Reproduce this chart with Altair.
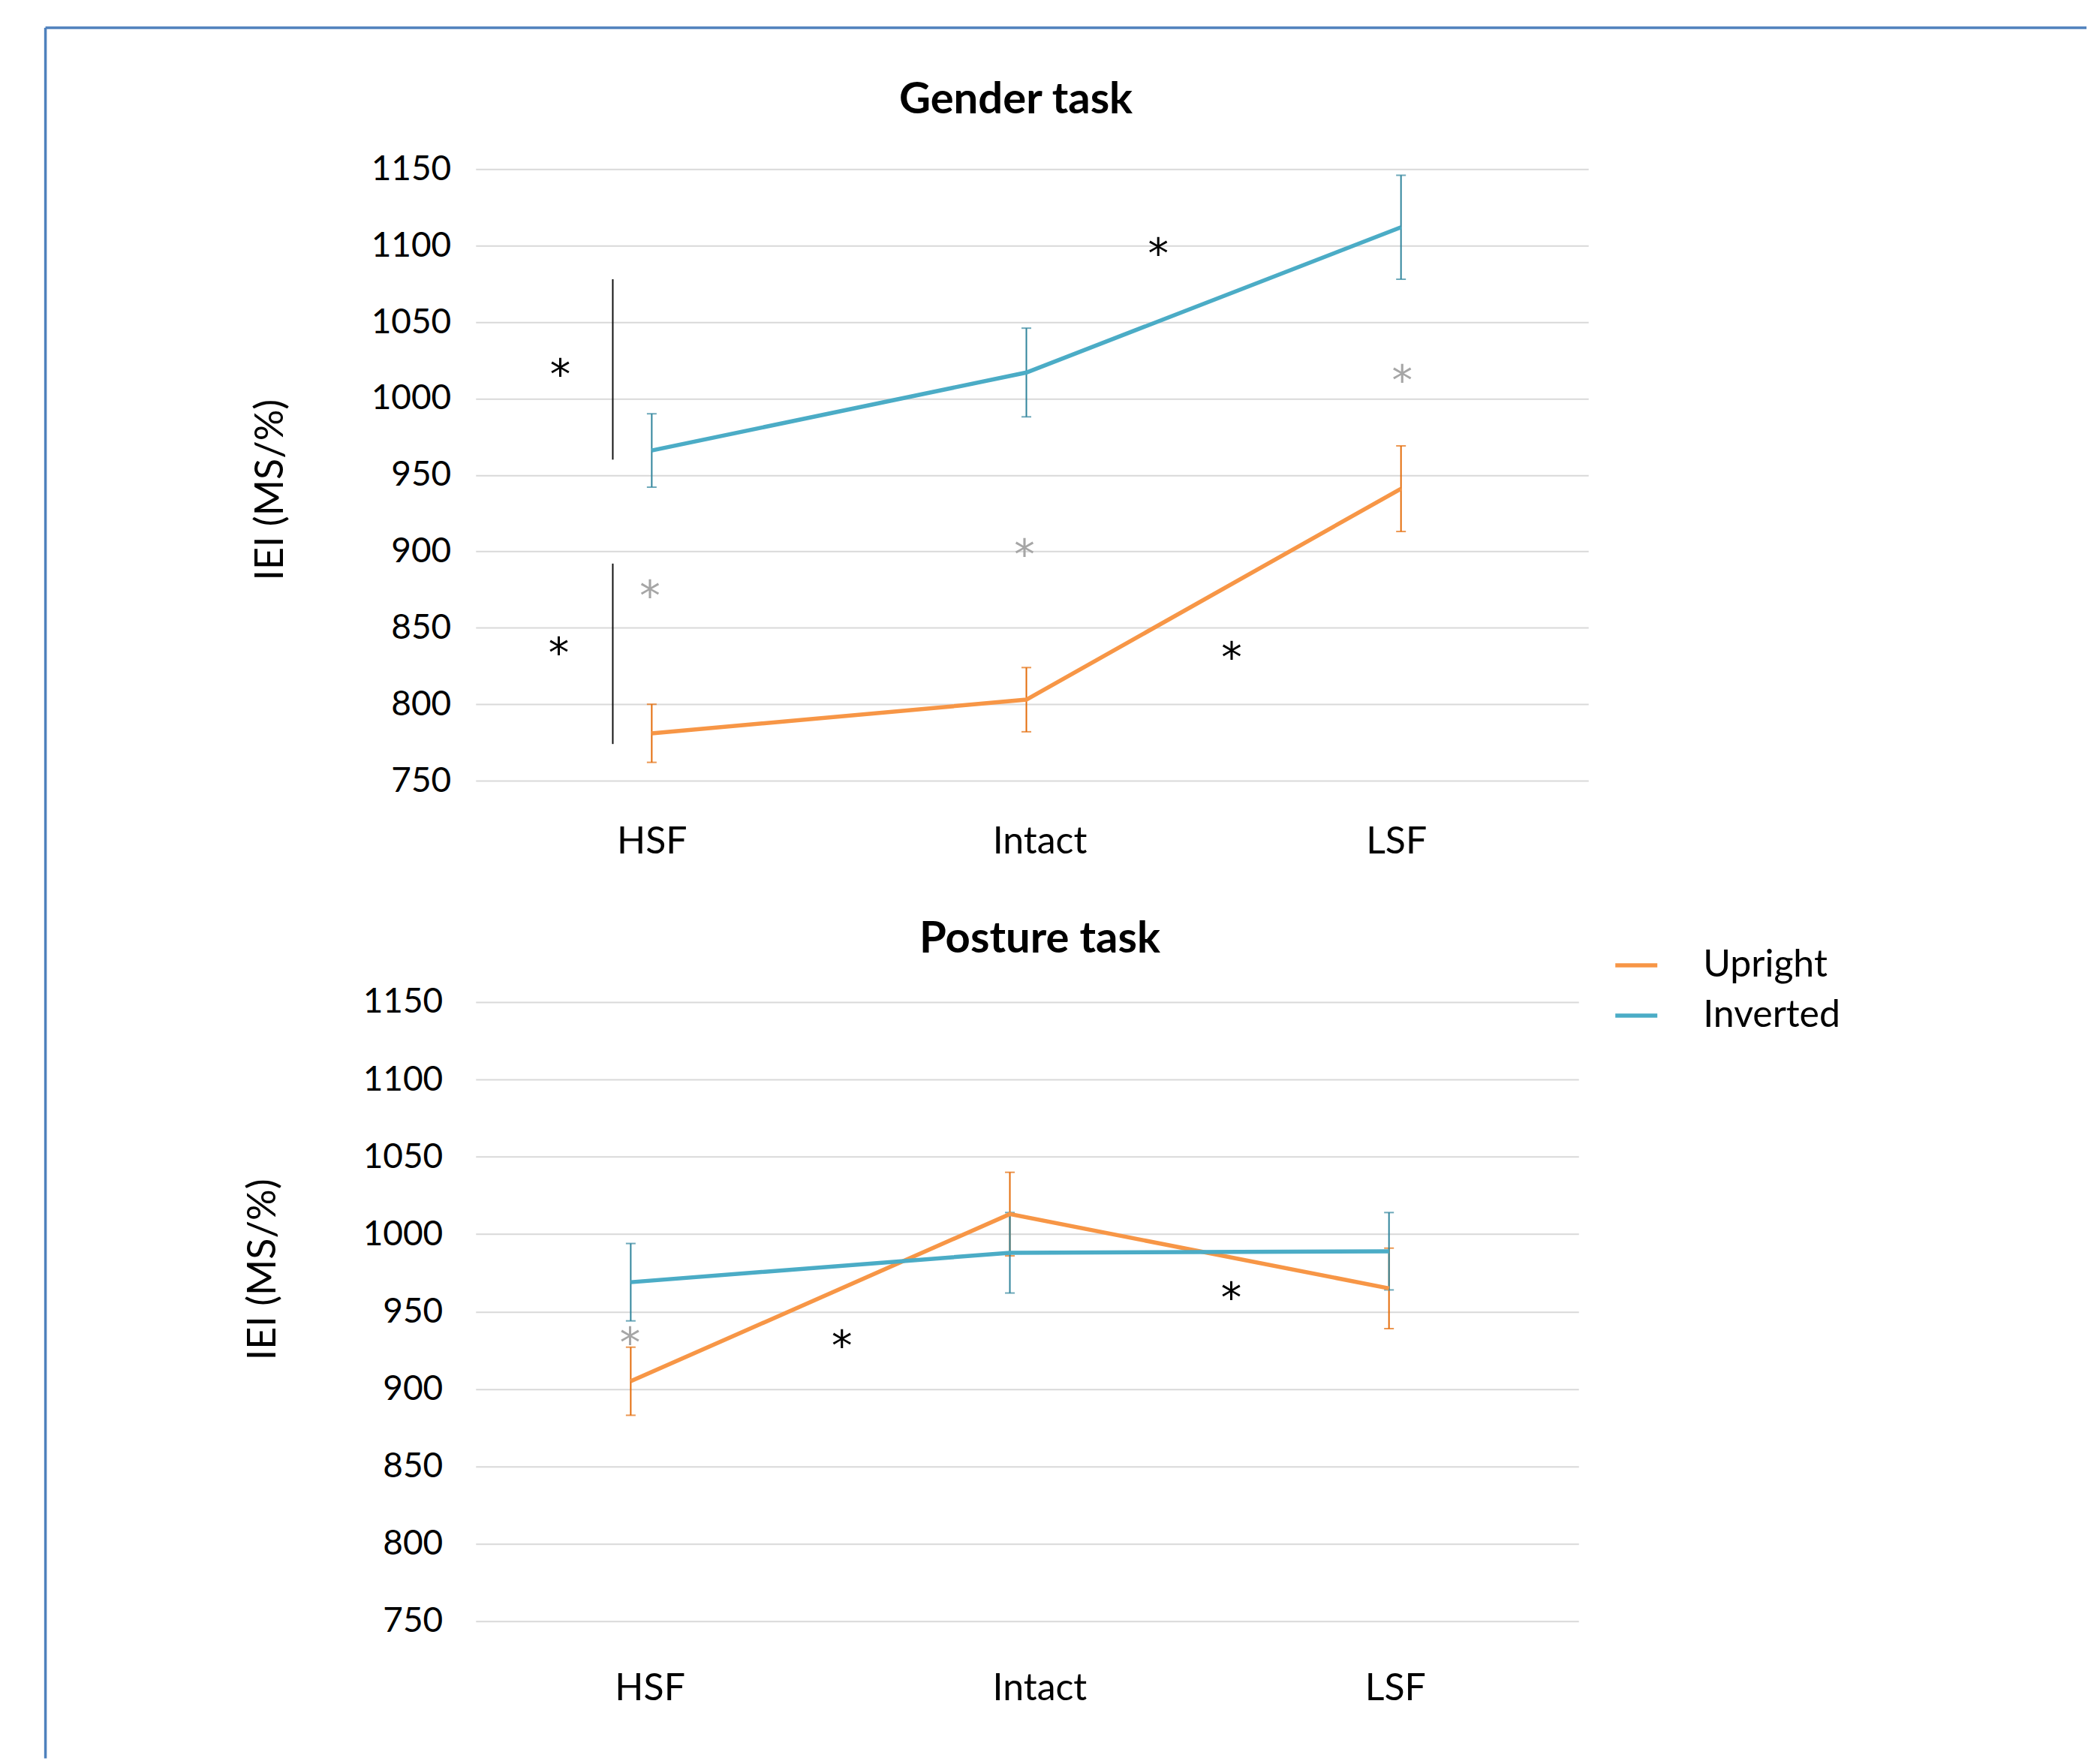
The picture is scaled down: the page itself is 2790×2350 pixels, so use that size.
import altair as alt
import pandas as pd

# ---------------- data ----------------
categories = ["HSF", "Intact", "LSF"]
series = ["Upright", "Inverted"]
line_colors = ["#F79646", "#4BACC6"]
err_colors = ["#E46C0A", "#31859C"]

gender_upright = [781, 803, 941]
gender_upright_err = [19, 21, 28]
gender_inverted = [966, 1017, 1112]
gender_inverted_err = [24, 29, 34]

posture_upright = [905, 1013, 965]
posture_upright_err = [22, 27, 26]
posture_inverted = [969, 988, 989]
posture_inverted_err = [25, 26, 25]

y_ticks = [750, 800, 850, 900, 950, 1000, 1050, 1100, 1150]

# significance asterisks (x in category units, HSF=0.5, Intact=1.5, LSF=2.5)
gender_star_x = [0.256, 0.252, 0.495, 1.495, 1.852, 2.503, 2.048]
gender_star_y = [1022, 840, 877, 904, 1101, 1018, 837]
gender_star_kind = ["sig", "sig", "trend", "trend", "sig", "trend", "sig"]
gender_bracket_x = [0.396, 0.396]
gender_bracket_lo = [960, 774]
gender_bracket_hi = [1078, 892]

posture_star_x = [0.498, 1.057, 2.084]
posture_star_y = [936, 934, 965]
posture_star_kind = ["trend", "sig", "sig"]

star_colors = {"sig": "#000000", "trend": "#A6A6A6"}

FONT = "Lato"
STAR_FONT = "DejaVu Sans"


def build_df(up, up_err, inv, inv_err):
    rows = []
    for s, vals, errs in [(series[0], up, up_err), (series[1], inv, inv_err)]:
        for i, c in enumerate(categories):
            rows.append({"cat": c, "pos": i + 0.5, "series": s, "val": vals[i],
                         "lo": vals[i] - errs[i], "hi": vals[i] + errs[i]})
    return pd.DataFrame(rows)


label_expr = (f"datum.value < 1 ? '{categories[0]}' : "
              f"(datum.value < 2 ? '{categories[1]}' : '{categories[2]}')")


def panel(title, title_pos, df, stars, brackets, xdomain, xticks, xlabpad,
          ylabpad, ytx, yty, width, height, legend, border):
    xs = alt.Scale(domain=xdomain, nice=False, zero=False)
    ys = alt.Scale(domain=[750, 1150], nice=False, zero=False)
    xaxis = alt.Axis(values=xticks, labelExpr=label_expr, grid=False, domain=False,
                     ticks=False, tickSize=0, labelFontSize=50, labelPadding=xlabpad,
                     labelBaseline="middle", labelFlush=False, labelOverlap=False,
                     title=None, labelFont=FONT, labelColor="#000000")
    yaxis = alt.Axis(values=y_ticks, format="d", grid=True, gridColor="#D9D9D9", gridWidth=2,
                     domain=False, ticks=False, tickSize=0, labelFontSize=46,
                     labelPadding=ylabpad, labelFont=FONT, labelColor="#000000",
                     title="IEI (MS/%)", titleFontSize=52, titleFont=FONT,
                     titleFontWeight="normal", titleColor="#000000",
                     titleX=ytx, titleY=yty, titleAlign="center", titleBaseline="middle")

    def X(f="pos"):
        return alt.X(f"{f}:Q", scale=xs, axis=xaxis)

    def Y(f):
        return alt.Y(f"{f}:Q", scale=ys, axis=yaxis)

    base = alt.Chart(df)
    layers = []
    for s, ec in zip(series, err_colors):
        sub = base.transform_filter(alt.datum.series == s)
        layers.append(sub.mark_rule(color=ec, strokeWidth=2).encode(x=X(), y=Y("lo"), y2="hi:Q"))
        layers.append(sub.mark_tick(color=ec, orient="horizontal", size=13, thickness=2)
                      .encode(x=X(), y=Y("lo")))
        layers.append(sub.mark_tick(color=ec, orient="horizontal", size=13, thickness=2)
                      .encode(x=X(), y=Y("hi")))

    if legend:
        leg = alt.Legend(orient="none", legendX=legend[0], legendY=legend[1], title=None,
                         symbolType="stroke", symbolStrokeWidth=5.5, symbolSize=3136,
                         labelFontSize=50, labelFont=FONT, labelColor="#000000",
                         labelOffset=58, rowPadding=11, padding=0, labelLimit=0)
    else:
        leg = None
    layers.append(base.mark_line(strokeWidth=5.5).encode(
        x=X(), y=Y("val"),
        color=alt.Color("series:N", scale=alt.Scale(domain=series, range=line_colors),
                        sort=series, legend=leg),
        order=alt.Order("order:Q")
    ).transform_calculate(order="datum.series == 'Upright' ? 0 : 1"))

    if brackets is not None:
        layers.append(alt.Chart(brackets).mark_rule(color="#111111", strokeWidth=2)
                      .encode(x=X(), y=Y("lo"), y2="hi:Q"))

    for kind, col in star_colors.items():
        sd = stars[stars["kind"] == kind]
        if len(sd):
            layers.append(alt.Chart(sd).mark_text(text="*", color=col, fontSize=55,
                                                  font=STAR_FONT, baseline="alphabetic", dy=32)
                          .encode(x=X(), y=Y("val")))

    one = pd.DataFrame({"k": [0]})
    # panel title
    layers.append(alt.Chart(one).mark_text(
        text=title, fontSize=58, font=FONT, fontWeight="bold", color="#000000",
        align="center", baseline="alphabetic"
    ).encode(x=alt.value(title_pos[0]), y=alt.value(title_pos[1])))

    if border:
        bc = "#4F81BD"
        layers.append(alt.Chart(one).mark_rule(color=bc, strokeWidth=3.5).encode(
            x=alt.value(border[0]), x2=alt.value(border[2]), y=alt.value(border[1])))
        layers.append(alt.Chart(one).mark_rule(color=bc, strokeWidth=3.5).encode(
            x=alt.value(border[0]), y=alt.value(border[1]), y2=alt.value(border[3])))

    return alt.layer(*layers).properties(width=width, height=height)


gender_df = build_df(gender_upright, gender_upright_err, gender_inverted, gender_inverted_err)
posture_df = build_df(posture_upright, posture_upright_err, posture_inverted, posture_inverted_err)

gender_stars = pd.DataFrame({"pos": gender_star_x, "val": gender_star_y, "kind": gender_star_kind})
posture_stars = pd.DataFrame({"pos": posture_star_x, "val": posture_star_y, "kind": posture_star_kind})
gender_brackets = pd.DataFrame({"pos": gender_bracket_x, "lo": gender_bracket_lo, "hi": gender_bracket_hi})

top = panel("Gender task", (720, -74.5), gender_df, gender_stars, gender_brackets,
            [0.03, 3.0], [0.5, 1.535, 2.487], 81, 33, -273, 427, 1483, 815,
            legend=(1516, 1030), border=(-573.4, -188.4, 2147, 2118))
bottom = panel("Posture task", (752, -66), posture_df, posture_stars, None,
               [0.091, 3.0], [0.55, 1.578, 2.516], 90, 44, -283, 356, 1470, 825,
               legend=None, border=None)

chart = alt.vconcat(top, bottom, spacing=295, bounds="flush").resolve_legend(
    color="independent"
).properties(
    padding={"left": 50, "top": 26, "right": 0, "bottom": 0}
).configure(background="white").configure_view(stroke=None)

chart.save("out.html", embed_options={"renderer": "svg", "actions": False})
